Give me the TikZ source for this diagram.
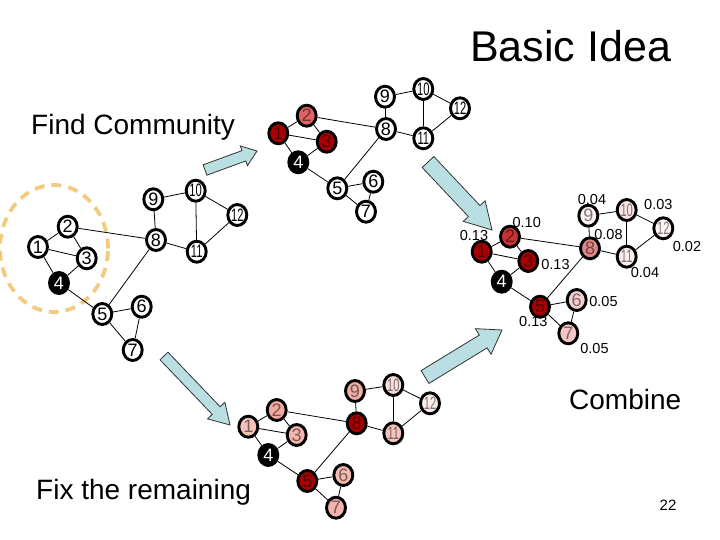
\documentclass[tikz,border=0pt]{standalone}
\usepackage{fontspec}
\setmainfont{Liberation Sans}
\usetikzlibrary{calc,shapes.geometric}
\definecolor{dred}{HTML}{A80000}
\definecolor{tred}{HTML}{E06262}
\definecolor{rred}{HTML}{C83232}
\definecolor{rpk8}{HTML}{E08888}
\definecolor{rpk6}{HTML}{F7CFCF}
\definecolor{rpk7}{HTML}{F5C6C6}
\definecolor{rpk9}{HTML}{FDF2F2}
\definecolor{rpkA}{HTML}{FAE3E3}
\definecolor{rpkB}{HTML}{FCECEC}
\definecolor{rpkC}{HTML}{FEF4F4}
\definecolor{bpk1}{HTML}{F5C2BA}
\definecolor{bpk2}{HTML}{F0A8A0}
\definecolor{bpk3}{HTML}{F2B4AC}
\definecolor{bpk6}{HTML}{F3BBB3}
\definecolor{bpk7}{HTML}{F1B3AB}
\definecolor{bpk9}{HTML}{EFAEA6}
\definecolor{bpkA}{HTML}{F9DDD8}
\definecolor{bpkB}{HTML}{F5C3BC}
\definecolor{bpkC}{HTML}{FCECEA}
\definecolor{arrblue}{HTML}{BADFE2}
\definecolor{dashorange}{HTML}{F2CA80}
\newcommand\twod[1]{\scalebox{0.62}[1]{#1}}
\newcommand\barrow[5]{%
  \coordinate (bH) at ($(#2)!#5!(#1)$);
  \draw[barr] ($(#1)!#3!90:(#2)$) -- ($(bH)!#3!90:(#2)$) -- ($(bH)!#4!90:(#2)$) -- (#2)
     -- ($(bH)!#4!-90:(#2)$) -- ($(bH)!#3!-90:(#2)$) -- ($(#1)!#3!-90:(#2)$) -- cycle;}
\begin{document}
\begin{tikzpicture}[x=1pt,y=-1pt,
  nd/.style={ellipse, draw=black, line width=2.9pt, minimum width=19pt, minimum height=21pt,
     inner sep=0pt, font=\fontsize{18}{18}\selectfont, fill=white, text=black},
  rn/.style={nd, fill=#1, text=#1!50!black},
  bn/.style={nd, fill=black, text=white},
  edge/.style={line width=0.8pt, black},
  wt/.style={font=\fontsize{14.5}{15}\selectfont, inner sep=0pt},
  big/.style={font=\fontsize{28}{30}\selectfont, inner sep=0pt, anchor=base west},
  barr/.style={draw=black!80, line width=0.8pt, fill=arrblue, line join=miter},
  dashcirc/.style={draw=dashorange, line width=3.8pt, dash pattern=on 10pt off 7pt}]
\useasboundingbox (0,0) rectangle (720,540);

% texts
\node[big, font=\fontsize{43}{45}\selectfont] (title) at (470,62) {Basic Idea};
\node[big] (find) at (31,135) {Find Community};
\node[big] (fix) at (36,499) {Fix the remaining};
\node[big] (comb) at (569,409) {Combine};
\node[font=\fontsize{15}{16}\selectfont, inner sep=0pt, anchor=base] (pg) at (668,510) {22};

% dashed community
\draw[dashcirc] (54,248.5) ellipse [x radius=54pt, y radius=63.5pt];

% block arrows
\coordinate (a1t) at (205,170); \coordinate (a1h) at (257,151);
\coordinate (a2t) at (428,162); \coordinate (a2h) at (492,230);
\coordinate (a3t) at (164,356); \coordinate (a3h) at (230,425);
\coordinate (a4t) at (425,377); \coordinate (a4h) at (502,330);
\barrow{a1t}{a1h}{5.5pt}{10.5pt}{14pt}
\barrow{a2t}{a2h}{8pt}{15pt}{26pt}
\barrow{a3t}{a3h}{5.5pt}{12pt}{20pt}
\barrow{a4t}{a4h}{7.5pt}{15pt}{22pt}

% left graph
\node[nd] (L1) at (38,247) {1};
\node[nd] (L2) at (67.7,226.7) {2};
\node[nd] (L3) at (86.7,258.3) {3};
\node[bn] (L4) at (59,283) {4};
\node[nd] (L5) at (102.3,314) {5};
\node[nd] (L6) at (141.7,306.7) {6};
\node[nd] (L7) at (132.7,350) {7};
\node[nd] (L8) at (156,240) {8};
\node[nd] (L9) at (153.3,199.3) {9};
\node[nd] (L10) at (195.7,190.7) {\twod{10}};
\node[nd] (L11) at (196.7,251.7) {\twod{11}};
\node[nd] (L12) at (237.3,215) {\twod{12}};

% top graph
\node[rn=dred] (T1) at (278.3,133.3) {1};
\node[rn=tred] (T2) at (306.7,115.7) {2};
\node[rn=dred] (T3) at (326.7,141.7) {3};
\node[bn] (T4) at (298.3,162.3) {4};
\node[nd] (T5) at (337.3,188.3) {5};
\node[nd] (T6) at (373.3,181.7) {6};
\node[nd] (T7) at (366,211.7) {7};
\node[nd] (T8) at (386,129) {8};
\node[nd] (T9) at (385,96.7) {9};
\node[nd] (T10) at (423.3,89) {\twod{10}};
\node[nd] (T11) at (423.3,138.3) {\twod{11}};
\node[nd] (T12) at (460,108.3) {\twod{12}};

% right graph
\node[rn=dred] (R1) at (481.7,251.7) {1};
\node[rn=rred] (R2) at (510,236.7) {2};
\node[rn=dred] (R3) at (528.3,261) {3};
\node[bn] (R4) at (501.7,281.7) {4};
\node[rn=dred] (R5) at (540,306.7) {5};
\node[rn=rpk6] (R6) at (576.7,300) {6};
\node[rn=rpk7] (R7) at (568.3,333.3) {7};
\node[rn=rpk8] (R8) at (590,248.3) {8};
\node[rn=rpk9] (R9) at (588.3,215.7) {9};
\node[rn=rpkA] (R10) at (626.7,210) {\twod{10}};
\node[rn=rpkB] (R11) at (626.7,256.7) {\twod{11}};
\node[rn=rpkC] (R12) at (663.3,228.3) {\twod{12}};

% bottom graph
\node[rn=bpk1] (B1) at (248.3,426.7) {1};
\node[rn=bpk2] (B2) at (276.7,410) {2};
\node[rn=bpk3] (B3) at (296.7,435) {3};
\node[bn] (B4) at (268.3,455) {4};
\node[rn=dred] (B5) at (307.3,481) {5};
\node[rn=bpk6] (B6) at (343.3,475) {6};
\node[rn=bpk7] (B7) at (336,507.7) {7};
\node[rn=dred] (B8) at (356.7,423.3) {8};
\node[rn=bpk9] (B9) at (355,391) {9};
\node[rn=bpkA] (B10) at (393.3,385) {\twod{10}};
\node[rn=bpkB] (B11) at (393.3,433.3) {\twod{11}};
\node[rn=bpkC] (B12) at (430,403.3) {\twod{12}};

% edges
\foreach \p in {L,T,R,B}{
  \foreach \a/\b in {1/2,1/3,2/3,1/4,3/4,2/8,4/5,5/8,5/6,5/7,6/7,8/9,8/11,9/10,10/11,10/12,11/12}
    \draw[edge] (\p\a) -- (\p\b);
}

% weights
\node[wt] (w9) at (592,200) {0.04};
\node[wt] (w10) at (658.3,205) {0.03};
\node[wt] (w2) at (526.7,223) {0.10};
\node[wt] (w1) at (474,235.5) {0.13};
\node[wt] (w8) at (608.5,235) {0.08};
\node[wt] (w12) at (687,246.5) {0.02};
\node[wt] (w3) at (555.5,264.3) {0.13};
\node[wt] (w11) at (645,273) {0.04};
\node[wt] (w6) at (603.5,302) {0.05};
\node[wt] (w5) at (533.3,321.7) {0.13};
\node[wt] (w7) at (594.5,348.5) {0.05};
\end{tikzpicture}
\end{document}
